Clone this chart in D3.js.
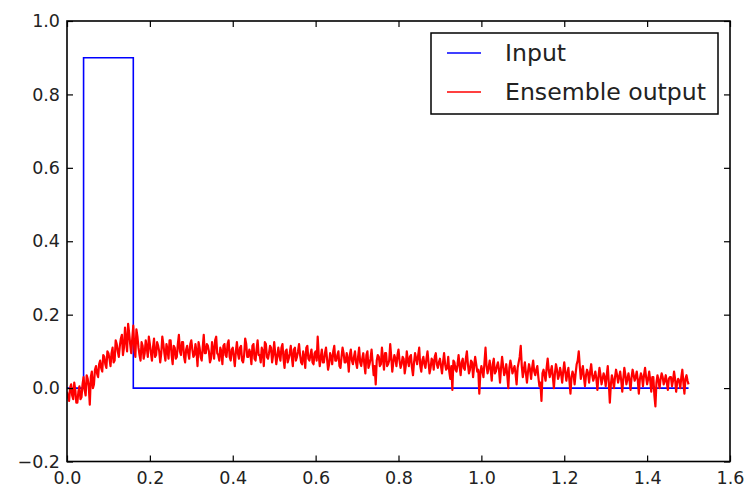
<!DOCTYPE html>
<html>
<head>
<meta charset="utf-8">
<script src="https://cdn.jsdelivr.net/npm/d3@7"></script>
<style>
  html, body { margin: 0; padding: 0; background: #fff; }
  svg { display: block; }
  text { font-family: "DejaVu Sans", sans-serif; fill: #222; }
</style>
</head>
<body>
<svg id="chart" width="747" height="492"></svg>
<script>
// ---------------- data ----------------
const xTicks = [0.0, 0.2, 0.4, 0.6, 0.8, 1.0, 1.2, 1.4, 1.6];
const yTicks = [-0.2, 0.0, 0.2, 0.4, 0.6, 0.8, 1.0];
const seriesNames = ["Input", "Ensemble output"];
const seriesColors = ["#0000ff", "#ff0000"];

// Input: rectangular pulse
const inputTimes  = [0.0, 0.04, 0.04, 0.16, 0.16, 1.5];
const inputValues = [0.0, 0.0,  0.9,  0.9,  0.0,  0.0];

// Ensemble output, samples at t = 0, 0.005, ..., 1.5
const outputStep = 0.005;
const outputValues = [
  -0.010,-0.035,0.010,-0.030,-0.005,-0.040,0.005,-0.025,0.030,-0.020,
  0.025,-0.045,0.045,0.010,0.060,0.030,0.075,0.045,0.085,0.055,
  0.095,0.060,0.110,0.075,0.120,0.085,0.135,0.090,0.165,0.100,
  0.150,0.095,0.170,0.085,0.140,0.090,0.125,0.080,0.130,0.085,
  0.120,0.075,0.135,0.090,0.115,0.070,0.140,0.095,0.120,0.080,
  0.130,0.065,0.110,0.085,0.145,0.090,0.125,0.070,0.115,0.080,
  0.130,0.085,0.120,0.060,0.110,0.075,0.145,0.095,0.115,0.070,
  0.125,0.080,0.140,0.090,0.110,0.065,0.120,0.085,0.130,0.075,
  0.110,0.060,0.125,0.080,0.115,0.070,0.135,0.085,0.105,0.065,
  0.120,0.075,0.130,0.090,0.110,0.060,0.120,0.080,0.115,0.070,
  0.125,0.065,0.110,0.075,0.120,0.055,0.105,0.080,0.115,0.060,
  0.110,0.085,0.120,0.070,0.100,0.055,0.115,0.075,0.105,0.065,
  0.100,0.140,0.060,0.105,0.070,0.110,0.050,0.095,0.065,0.115,
  0.075,0.100,0.055,0.110,0.070,0.095,0.045,0.105,0.065,0.100,
  0.055,0.110,0.060,0.095,0.040,0.100,0.065,0.105,0.035,0.010,
  0.090,0.060,0.110,0.050,0.095,0.065,0.120,0.045,0.090,0.060,
  0.105,0.055,0.085,0.040,0.100,0.060,0.090,0.035,0.095,0.065,
  0.110,0.045,0.085,0.055,0.100,0.040,0.080,0.050,0.095,0.055,
  0.080,0.040,0.095,0.050,0.085,0.025,-0.005,0.070,0.045,0.090,
  0.035,0.080,0.050,0.100,0.040,0.075,0.030,0.085,0.045,-0.015,
  0.060,0.030,0.110,0.040,0.075,0.020,0.080,0.045,0.070,0.015,
  0.085,0.035,0.065,0.000,0.075,0.040,0.060,0.010,0.070,0.115,
  0.030,0.070,0.015,0.065,0.025,0.075,0.035,0.060,0.005,-0.035,
  0.050,0.020,0.080,0.030,0.060,0.000,0.065,0.025,0.055,0.015,
  0.070,0.020,0.055,-0.015,0.045,0.010,0.065,0.100,0.025,0.060,
  0.005,0.050,0.015,0.065,0.020,0.045,-0.005,0.055,0.010,0.040,
  0.005,0.060,-0.040,0.035,0.000,0.050,0.015,0.045,-0.010,0.055,
  0.010,0.040,-0.005,0.050,0.020,0.045,-0.015,0.040,0.005,0.055,
  0.010,0.045,-0.010,0.030,-0.050,0.035,0.000,0.040,0.010,0.035,
  -0.005,0.030,0.005,0.045,-0.010,0.025,0.000,0.050,-0.015,0.035,
  0.010
];
// Ensemble output, samples at t = 0.0025, 0.0075, ..., 1.4975
const outputHalfStepValues = [
  -0.025,0.000,-0.020,0.015,-0.040,-0.010,-0.030,0.010,-0.005,0.035,
  0.005,0.030,0.000,0.050,0.040,0.065,0.055,0.090,0.065,0.100,
  0.080,0.095,0.070,0.130,0.100,0.115,0.145,0.110,0.130,0.175,
  0.120,0.135,0.105,0.160,0.110,0.075,0.115,0.095,0.110,0.140,
  0.095,0.110,0.085,0.125,0.100,0.095,0.120,0.075,0.105,0.130,
  0.090,0.115,0.080,0.120,0.100,0.125,0.085,0.105,0.095,0.120,
  0.105,0.090,0.100,0.125,0.085,0.110,0.095,0.120,0.100,0.080,
  0.105,0.130,0.095,0.075,0.100,0.115,0.090,0.120,0.085,0.105,
  0.085,0.100,0.095,0.110,0.075,0.090,0.120,0.085,0.095,0.115,
  0.080,0.105,0.090,0.070,0.100,0.125,0.085,0.095,0.110,0.090,
  0.095,0.085,0.090,0.110,0.080,0.100,0.070,0.095,0.085,0.105,
  0.075,0.100,0.090,0.065,0.085,0.110,0.080,0.090,0.070,0.095,
  0.075,0.090,0.085,0.070,0.095,0.080,0.065,0.085,0.100,0.075,
  0.090,0.060,0.085,0.095,0.070,0.080,0.090,0.075,0.085,0.070,
  0.085,0.070,0.080,0.065,0.090,0.055,0.080,0.070,0.060,0.075,
  0.085,0.065,0.080,0.095,0.060,0.075,0.085,0.070,0.080,0.090,
  0.075,0.065,0.080,0.060,0.075,0.085,0.055,0.070,0.080,0.090,
  0.060,0.075,0.065,0.080,0.070,0.055,0.075,0.085,0.065,0.070,
  0.060,0.070,0.065,0.055,0.045,0.060,0.075,0.050,0.065,0.060,
  0.070,0.055,0.080,0.065,0.050,0.070,0.060,0.065,0.050,0.040,
  0.045,0.070,0.060,0.055,0.050,0.065,0.040,0.060,0.050,0.055,
  0.060,0.045,0.035,0.055,0.060,0.050,0.040,0.055,0.085,0.060,
  0.050,0.040,0.045,0.050,0.055,0.045,0.050,0.030,0.015,0.040,
  0.035,0.055,0.050,0.045,0.030,0.040,0.050,0.035,0.040,0.045,
  0.045,0.040,0.020,0.030,0.035,0.040,0.075,0.060,0.045,0.030,
  0.035,0.040,0.045,0.035,0.030,0.025,0.030,0.035,0.025,0.030,
  0.035,0.015,0.010,0.020,0.030,0.035,0.030,0.020,0.025,0.035,
  0.025,0.020,0.030,0.035,0.030,0.020,0.025,0.030,0.035,0.030,
  0.025,0.020,0.030,-0.020,0.015,0.020,0.025,0.030,0.020,0.015,
  0.025,0.030,0.020,0.025,0.015,0.020,0.030,0.015,0.025,0.020
];

// ---------------- layout ----------------
const plotLeft = 67, plotRight = 730, plotTop = 21, plotBottom = 461.5;
const tickFont = 17.5, legendFont = 23.6;

const svg = d3.select("#chart");
const x = d3.scaleLinear().domain([0, 1.6]).range([plotLeft, plotRight]);
const y = d3.scaleLinear().domain([-0.2, 1.0]).range([plotBottom, plotTop]);
const fmt = d3.format(".1f");

// build line tables
const line = d3.line().x(d => x(d[0])).y(d => y(d[1]));
const inputData = inputTimes.map((t, i) => [t, inputValues[i]]);
const outputData = [];
outputValues.forEach((v, i) => {
  outputData.push([i * outputStep, v]);
  if (i < outputHalfStepValues.length) {
    outputData.push([i * outputStep + outputStep / 2, outputHalfStepValues[i]]);
  }
});

svg.append("clipPath").attr("id", "clip")
  .append("rect").attr("x", plotLeft).attr("y", plotTop)
  .attr("width", plotRight - plotLeft).attr("height", plotBottom - plotTop);

const g = svg.append("g").attr("clip-path", "url(#clip)");
g.append("path").datum(inputData).attr("d", line)
  .attr("fill", "none").attr("stroke", seriesColors[0]).attr("stroke-width", 1.6);
g.append("path").datum(outputData).attr("d", line)
  .attr("fill", "none").attr("stroke", seriesColors[1]).attr("stroke-width", 2.2)
  .attr("stroke-linejoin", "round");

// axes (inward ticks on all four sides)
function styleAxis(sel) {
  sel.select(".domain").remove();
  sel.selectAll(".tick line").attr("stroke", "#000").attr("stroke-width", 1.2);
  sel.selectAll(".tick text").style("font-family", "DejaVu Sans").style("font-size", tickFont + "px").attr("fill", "#222");
}
svg.append("g").attr("transform", `translate(0,${plotBottom})`)
  .call(d3.axisBottom(x).tickValues(xTicks).tickFormat(fmt).tickSizeInner(-6).tickSizeOuter(0).tickPadding(10))
  .call(styleAxis);
svg.append("g").attr("transform", `translate(0,${plotTop})`)
  .call(d3.axisTop(x).tickValues(xTicks).tickFormat("").tickSizeInner(-6).tickSizeOuter(0))
  .call(styleAxis);
svg.append("g").attr("transform", `translate(${plotLeft},0)`)
  .call(d3.axisLeft(y).tickValues(yTicks).tickFormat(fmt).tickSizeInner(-6).tickSizeOuter(0).tickPadding(7))
  .call(styleAxis);
svg.append("g").attr("transform", `translate(${plotRight},0)`)
  .call(d3.axisRight(y).tickValues(yTicks).tickFormat("").tickSizeInner(-6).tickSizeOuter(0))
  .call(styleAxis);

// frame
svg.append("rect").attr("x", plotLeft).attr("y", plotTop)
  .attr("width", plotRight - plotLeft).attr("height", plotBottom - plotTop)
  .attr("fill", "none").attr("stroke", "#000").attr("stroke-width", 1.6);

// legend
const lg = svg.append("g");
lg.append("rect").attr("x", 431).attr("y", 33).attr("width", 287).attr("height", 81)
  .attr("fill", "#fff").attr("stroke", "#000").attr("stroke-width", 1.5);
const legendRows = [53, 92];
seriesNames.forEach((name, i) => {
  lg.append("line").attr("x1", 447).attr("x2", 481)
    .attr("y1", legendRows[i]).attr("y2", legendRows[i])
    .attr("stroke", seriesColors[i]).attr("stroke-width", 1.6);
  lg.append("text").attr("x", 505).attr("y", legendRows[i])
    .attr("dominant-baseline", "central")
    .style("font-size", legendFont + "px").text(name);
});
</script>
</body>
</html>
